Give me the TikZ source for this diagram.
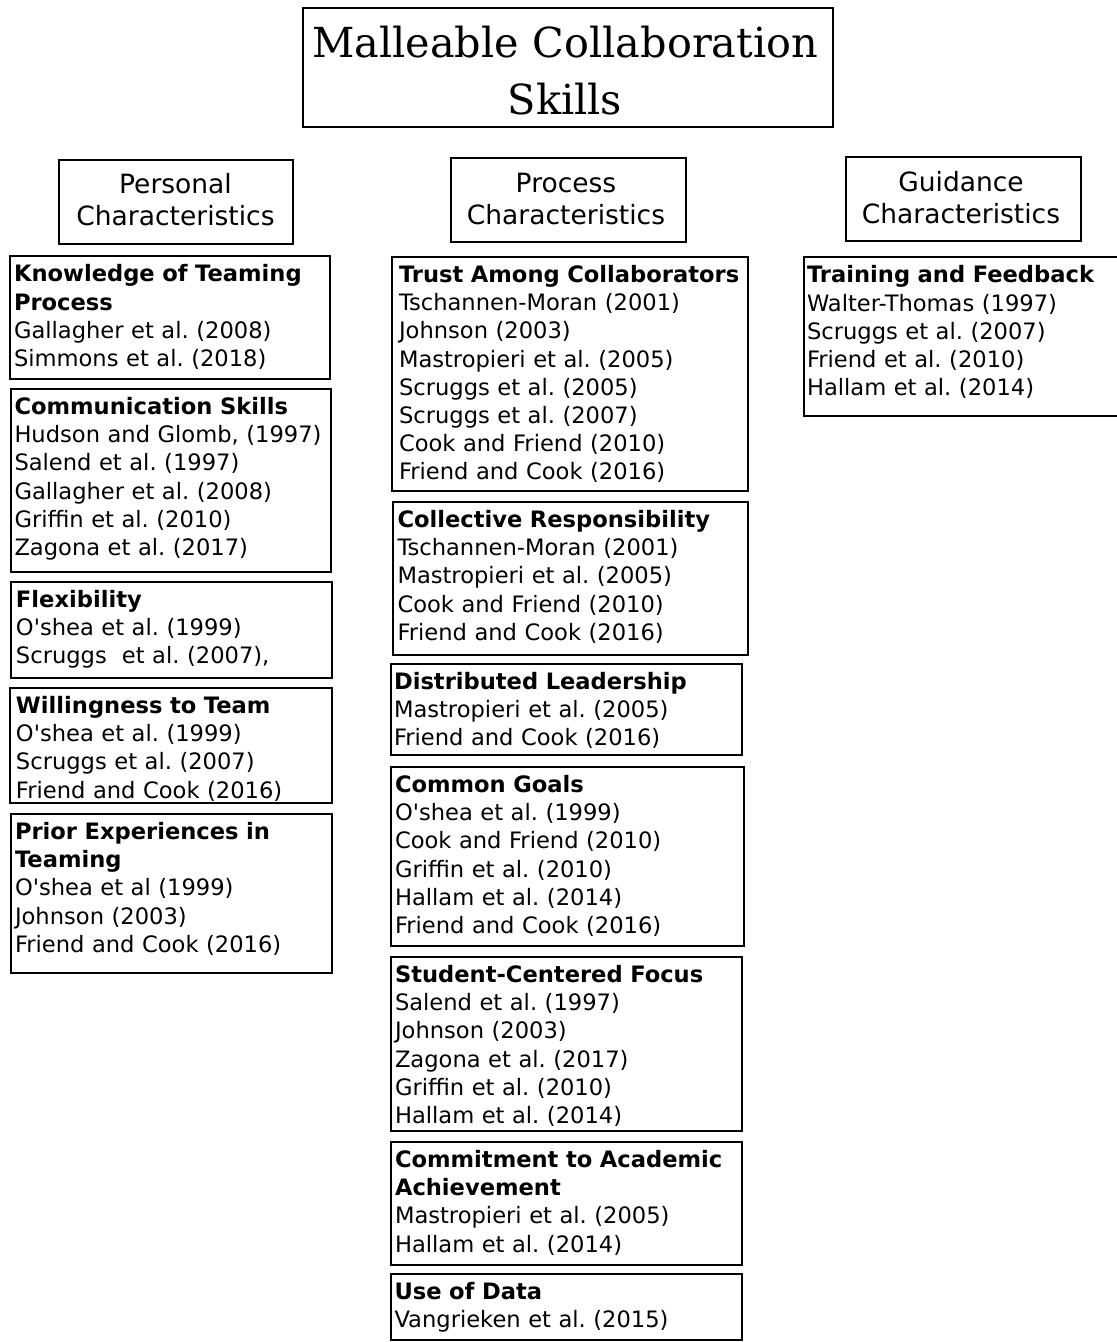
\documentclass[tikz,border=0pt]{standalone}
\usepackage{fontspec}
\setmainfont{DejaVu Sans}
\newfontfamily\titlefont{DejaVu Serif}
\newcommand\apos{\XeTeXglyph\XeTeXcharglyph"27\relax}
\frenchspacing
\tikzset{
  frame/.style={draw=black, line width=1pt, outer sep=0pt, inner sep=0pt, anchor=north west},
  bodytext/.style={anchor=north west, inner sep=0pt, outer sep=0pt, align=left, text width=200pt,
    font=\frenchspacing\fontsize{11.3}{14.1}\selectfont},
  headtext/.style={anchor=north, inner sep=0pt, outer sep=0pt, align=center, text width=130pt,
    font=\fontsize{13.25}{16}\selectfont},
  titletext/.style={anchor=north, inner sep=0pt, outer sep=0pt, align=center, text width=275pt,
    font=\titlefont\fontsize{20.7}{28.3}\selectfont},
}
% name, left, top, right, bottom (pixel units)
\newcommand\mkbox[5]{%
  \pgfmathsetmacro\bw{(#4-#2)*0.5}%
  \pgfmathsetmacro\bh{(#5-#3)*0.5}%
  \node[frame, minimum width=\bw pt, minimum height=\bh pt] (#1) at (#2,#3) {};}
% name, left, top, right, bottom, text x, content
\newcommand\skillbox[7]{%
  \mkbox{#1}{#2}{#3}{#4}{#5}%
  \node[bodytext] (#1-text) at (#6,#3+5.7) {\strut #7};}
\begin{document}
\begin{tikzpicture}[x=0.5pt,y=-0.5pt]
\useasboundingbox (0,0) rectangle (1116,1342);

% title
\mkbox{title}{302.5}{8.3}{833}{126.7}
\node[titletext] (title-text) at (565,18.1) {\strut Malleable Collaboration\\Skills};

% column headers
\mkbox{personal}{58.5}{160}{292.5}{244.5}
\node[headtext] (personal-text) at (175.5,171.6) {\strut Personal\\Characteristics};
\mkbox{process}{451}{157.7}{686}{242.3}
\node[headtext] (process-text) at (566,170.1) {\strut Process\\Characteristics};
\mkbox{guidance}{845.7}{156.7}{1081}{240.7}
\node[headtext] (guidance-text) at (961,169.1) {\strut Guidance\\Characteristics};

% personal column
\skillbox{know}{9.5}{256.5}{330}{379}{14}{\textbf{Knowledge of Teaming}\\\textbf{Process}\\Gallagher et al. (2008)\\Simmons et al. (2018)}
\skillbox{comm}{10.5}{389}{331}{572}{14.5}{\textbf{Communication Skills}\\Hudson and Glomb, (1997)\\Salend et al. (1997)\\Gallagher et al. (2008)\\Griffin et al. (2010)\\Zagona et al. (2017)}
\skillbox{flex}{10.5}{582}{332}{678}{16}{\textbf{Flexibility}\\O\apos shea et al. (1999)\\Scruggs\ \ et al. (2007),}
\skillbox{will}{9.5}{688}{332}{803}{16}{\textbf{Willingness to Team}\\O\apos shea et al. (1999)\\Scruggs et al. (2007)\\Friend and Cook (2016)}
\skillbox{prior}{11}{814}{332}{972.5}{15}{\textbf{Prior Experiences in}\\\textbf{Teaming}\\O\apos shea et al (1999)\\Johnson (2003)\\Friend and Cook (2016)}

% process column
\skillbox{trust}{392}{257}{748}{491}{399}{\textbf{Trust Among Collaborators}\\Tschannen-Moran (2001)\\Johnson (2003)\\Mastropieri et al. (2005)\\Scruggs et al. (2005)\\Scruggs et al. (2007)\\Cook and Friend (2010)\\Friend and Cook (2016)}
\skillbox{coll}{393}{502}{748}{655}{397.5}{\textbf{Collective Responsibility}\\Tschannen-Moran (2001)\\Mastropieri et al. (2005)\\Cook and Friend (2010)\\Friend and Cook (2016)}
\skillbox{dist}{390.5}{664}{742}{755}{394}{\textbf{Distributed Leadership}\\Mastropieri et al. (2005)\\Friend and Cook (2016)}
\skillbox{goals}{391}{767}{744}{946}{395}{\textbf{Common Goals}\\O\apos shea et al. (1999)\\Cook and Friend (2010)\\Griffin et al. (2010)\\Hallam et al. (2014)\\Friend and Cook (2016)}
\skillbox{student}{391}{957}{742}{1131}{395}{\textbf{Student-Centered Focus}\\Salend et al. (1997)\\Johnson (2003)\\Zagona et al. (2017)\\Griffin et al. (2010)\\Hallam et al. (2014)}
\skillbox{commit}{391}{1142}{742}{1265}{395}{\textbf{Commitment to Academic}\\\textbf{Achievement}\\Mastropieri et al. (2005)\\Hallam et al. (2014)}
\skillbox{data}{390.5}{1274}{742}{1340}{394.5}{\textbf{Use of Data}\\Vangrieken et al. (2015)}

% guidance column
\skillbox{train}{803.5}{257.5}{1125}{416}{807}{\textbf{Training and Feedback}\\Walter-Thomas (1997)\\Scruggs et al. (2007)\\Friend et al. (2010)\\Hallam et al. (2014)}
\end{tikzpicture}
\end{document}
